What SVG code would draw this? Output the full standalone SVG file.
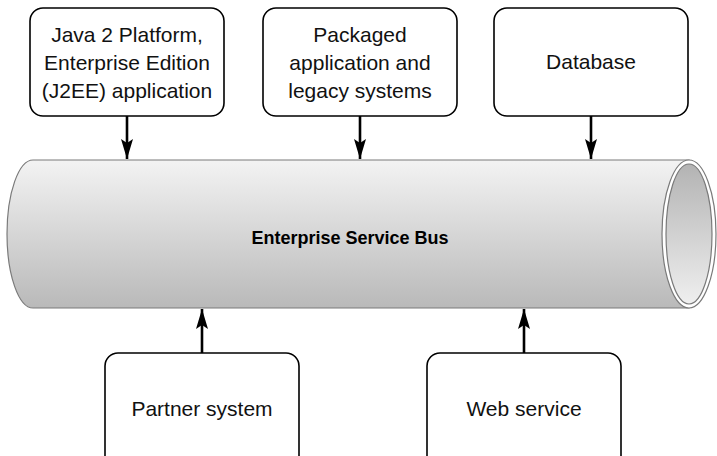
<svg xmlns="http://www.w3.org/2000/svg" width="717" height="456" viewBox="0 0 717 456">
<style>
.box{fill:#fff;stroke:#000;stroke-width:1.6}
.t{font-family:"Liberation Sans",Arial,sans-serif;font-size:21px;fill:#111;text-anchor:middle}
.tb{font-family:"Liberation Sans",Arial,sans-serif;font-size:18px;font-weight:bold;fill:#000;text-anchor:middle}
.conn{stroke:#000;stroke-width:2.6;fill:none}
.tube{stroke:#7a7a7a;stroke-width:1.2}
</style>
<defs>
<linearGradient id="body" x1="0" y1="0" x2="0" y2="1">
<stop offset="0" stop-color="#f3f3f3"/>
<stop offset="1" stop-color="#b9b9b9"/>
</linearGradient>
<linearGradient id="hole" x1="0" y1="0" x2="0" y2="1">
<stop offset="0" stop-color="#b3b3b3"/>
<stop offset="1" stop-color="#efefef"/>
</linearGradient>
<marker id="ah" viewBox="0 0 20 12" markerWidth="20" markerHeight="12" refX="20" refY="6" orient="auto" markerUnits="userSpaceOnUse">
<path d="M0,0 L20,6 L0,12 L4,6 Z" fill="#000"/>
</marker>
</defs>

<g id="bus">
<path class="tube" d="M689,160 L33,160 A26,74 0 0 0 33,308 L689,308 Z" fill="url(#body)"/>
<ellipse class="tube" cx="689" cy="234" rx="27" ry="74" fill="#fff"/>
<ellipse class="tube" cx="689" cy="234" rx="23" ry="70" fill="url(#hole)"/>
<text class="tb" x="350" y="244">Enterprise Service Bus</text>
</g>

<g id="j2ee">
<rect class="box" x="30" y="8" width="194" height="108" rx="13"/>
<text class="t" x="127" y="42">Java 2 Platform,</text>
<text class="t" x="127" y="70">Enterprise Edition</text>
<text class="t" x="127" y="98">(J2EE) application</text>
</g>

<g id="legacy">
<rect class="box" x="263" y="8" width="194" height="108" rx="13"/>
<text class="t" x="360" y="42">Packaged</text>
<text class="t" x="360" y="70">application and</text>
<text class="t" x="360" y="98">legacy systems</text>
</g>

<g id="database">
<rect class="box" x="494" y="8" width="194" height="108" rx="13"/>
<text class="t" x="591" y="69">Database</text>
</g>

<g id="partner">
<rect class="box" x="105" y="353" width="194" height="120" rx="13"/>
<text class="t" x="202" y="416">Partner system</text>
</g>

<g id="webservice">
<rect class="box" x="427" y="353" width="194" height="120" rx="13"/>
<text class="t" x="524" y="416">Web service</text>
</g>

<g id="connectors">
<line class="conn" x1="127" y1="116" x2="127" y2="159" marker-end="url(#ah)"/>
<line class="conn" x1="360" y1="116" x2="360" y2="159" marker-end="url(#ah)"/>
<line class="conn" x1="591" y1="116" x2="591" y2="159" marker-end="url(#ah)"/>
<line class="conn" x1="202" y1="353" x2="202" y2="309" marker-end="url(#ah)"/>
<line class="conn" x1="524" y1="353" x2="524" y2="309" marker-end="url(#ah)"/>
</g>
</svg>
